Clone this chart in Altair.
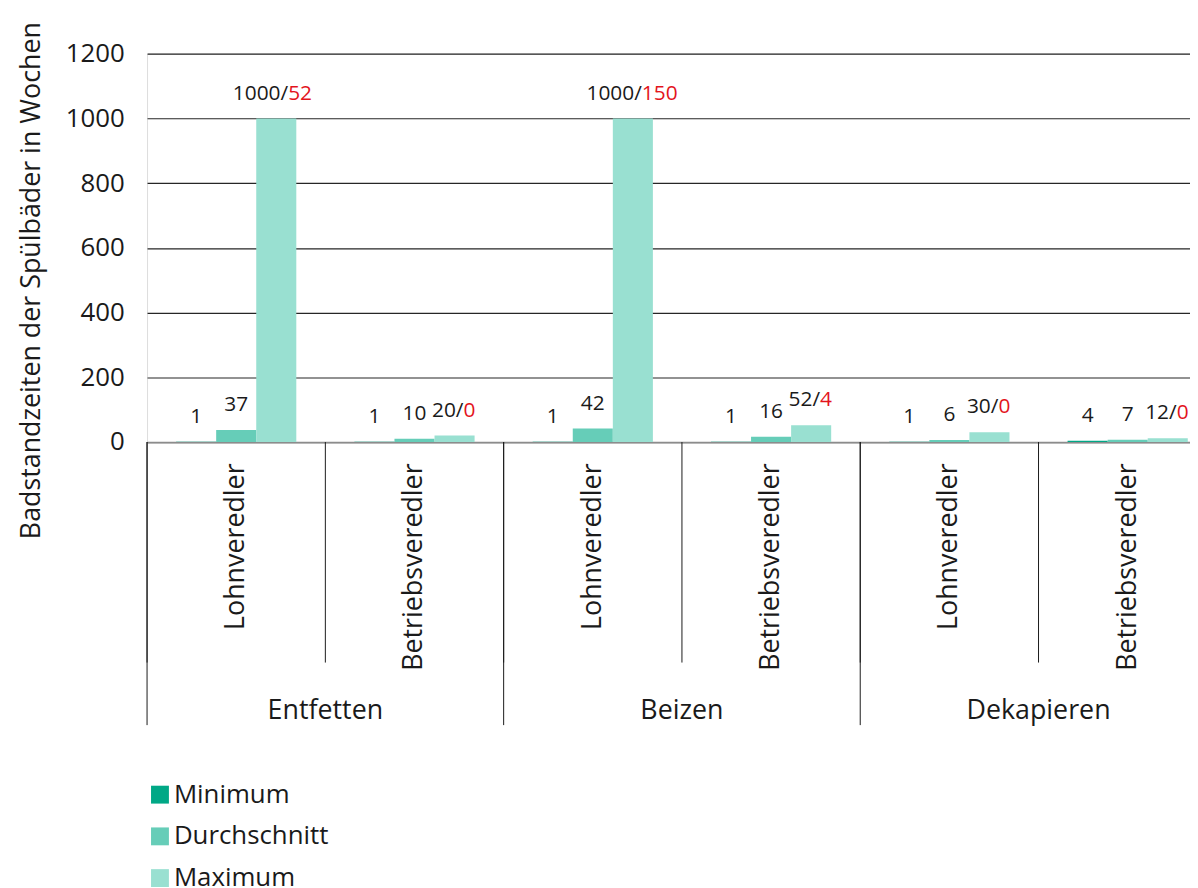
import altair as alt
import pandas as pd

processes = ["Entfetten", "Beizen", "Dekapieren"]
types = ["Lohnveredler", "Betriebsveredler"]
series = ["Minimum", "Durchschnitt", "Maximum"]
colors = ["#00a886", "#66cdb8", "#99e0d1"]

minimum = [1, 1, 1, 1, 1, 4]
average = [37, 10, 42, 16, 6, 7]
maximum = [1000, 20, 1000, 52, 30, 12]
max_label_black = ["1000/", "20/", "1000/", "52/", "30/", "12/"]
max_label_red = ["52", "0", "150", "4", "0", "0"]

cats = [f"{p}|{t}" for p in processes for t in types]

rows = []
for i, c in enumerate(cats):
    for s, v in zip(series, [minimum[i], average[i], maximum[i]]):
        rows.append({"cat": c, "series": s, "value": v,
                     "lab": str(v) if s != "Maximum" else "",
                     "lab_black": max_label_black[i] if s == "Maximum" else "",
                     "lab_red": max_label_red[i] if s == "Maximum" else ""})
df = pd.DataFrame(rows)
df_cat = pd.DataFrame({"cat": cats, "type": [c.split("|")[1] for c in cats],
                       "proc": [c.split("|")[0] for c in cats]})

FONT = "Open Sans"

xscale = alt.Scale(domain=cats, range=[0, 1077], paddingInner=0, paddingOuter=0, round=False)
xaxis = alt.Axis(title=None, ticks=False, labelAngle=-90, labelAlign="right",
                 labelBaseline="middle", labelPadding=21, labelFontSize=27, labelLimit=0,
                 labelFont=FONT, labelColor="#1a1a1a", domainColor="#8c8c8c",
                 domainWidth=1.5, labelExpr="split(datum.label, '|')[1]", grid=False)
yscale = alt.Scale(domain=[0, 1200])
yaxis = alt.Axis(title="Badstandzeiten der Spülbäder in Wochen", values=[0, 200, 400, 600, 800, 1000, 1200],
                 format="d", domain=False, ticks=False, labelPadding=23, labelFontSize=26, labelFont=FONT,
                 labelColor="#1a1a1a", gridColor="#262626", gridWidth=1.2,
                 titleFont=FONT, titleFontSize=27, titleFontWeight="normal", titleColor="#1a1a1a",
                 titleX=-116, titleY=228, titleAngle=-90, titleAlign="center", titleBaseline="middle")
xoff = alt.XOffset("series:N", sort=series,
                   scale=alt.Scale(domain=series, paddingInner=0, paddingOuter=0.725))

X = alt.X("cat:N", sort=cats, scale=xscale, axis=xaxis)
Y = alt.Y("value:Q", scale=yscale, axis=yaxis)

bars = alt.Chart(df).mark_bar().encode(
    x=X, y=Y, xOffset=xoff,
    color=alt.Color("series:N", sort=series,
                    scale=alt.Scale(domain=series, range=colors),
                    legend=alt.Legend(title=None, orient="none", legendX=0, legendY=733,
                                      direction="vertical", symbolType="square", symbolSize=324,
                                      symbolStrokeWidth=0, labelFontSize=26, labelFont=FONT,
                                      labelColor="#1a1a1a", labelOffset=1, rowPadding=16, padding=0)),
)

lab_plain = alt.Chart(df).transform_filter("datum.series != 'Maximum'").mark_text(
    fontSize=21, font=FONT, color="#1a1a1a", baseline="alphabetic", align="center", dy=-19
).encode(x=X, y=Y, xOffset=xoff, text="lab:N")

max_layers = []
for cond, shift in [("length(datum.lab_red) == 2", 12), ("length(datum.lab_red) != 2", 9)]:
    base = alt.Chart(df).transform_filter("datum.series == 'Maximum'").transform_filter(cond)
    max_layers.append(base.mark_text(
        fontSize=21, font=FONT, color="#1a1a1a", baseline="alphabetic", align="right", dx=shift, dy=-19
    ).encode(x=X, y=Y, xOffset=xoff, text="lab_black:N"))
    max_layers.append(base.mark_text(
        fontSize=21, font=FONT, color="#e3141c", baseline="alphabetic", align="left", dx=shift, dy=-19
    ).encode(x=X, y=Y, xOffset=xoff, text="lab_red:N"))

Xb = alt.X("cat:N", sort=cats, scale=xscale, axis=xaxis, bandPosition=0)

inner_rules = alt.Chart(df_cat).mark_rule(color="#1a1a1a", strokeWidth=1).encode(
    x=Xb, y=alt.value(391), y2=alt.value(613))

outer_rules = alt.Chart(df_cat).transform_filter("datum.type == 'Lohnveredler'").mark_rule(
    color="#1a1a1a", strokeWidth=1).encode(x=Xb, y=alt.value(391), y2=alt.value(676))

outer_labels = alt.Chart(df_cat).transform_filter("datum.type == 'Betriebsveredler'").mark_text(
    fontSize=27, font=FONT, color="#1a1a1a", baseline="middle", align="center").encode(
    x=Xb, y=alt.value(662), text="proc:N")

chart = alt.layer(bars, lab_plain, *max_layers, inner_rules, outer_rules, outer_labels).properties(
    width=1050, height=391,
    autosize=alt.AutoSizeParams(type="none"),
    padding={"left": 140, "top": 43, "right": 0, "bottom": 446},
).configure_view(stroke=None).configure(background="white")

chart.save("out.html", embed_options={"renderer": "svg", "actions": False})
